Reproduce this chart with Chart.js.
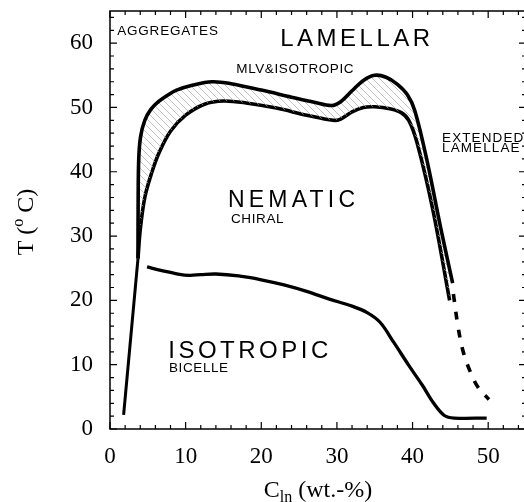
<!DOCTYPE html>
<html>
<head>
<meta charset="utf-8">
<script src="https://cdn.jsdelivr.net/npm/chart.js@4.4.1/dist/chart.umd.min.js"></script>
<style>
  html, body { margin: 0; padding: 0; background: #fff; overflow: hidden; }
  canvas { display: block; }
</style>
</head>
<body>
<canvas id="phase" width="528" height="502"></canvas>
<script>
// 相图: C_ln (wt.-%) vs T (°C)

// 左侧竖线 (aggregates 边界)
const leftX = [1.8, 3.7];
const leftT = [2.2, 26.5];

// MLV&ISOTROPIC 上边界
const outerX = [3.7, 3.72, 3.8, 4.05, 4.6, 5.4, 6.4, 7.6, 8.8, 11, 13.5, 16, 20, 24, 27, 29.3, 30.5, 32, 33.5, 35, 36.5, 38, 39.3, 40.3, 41.9, 43.7, 45.3];
const outerT = [26.5, 35, 42, 45.5, 48, 49.7, 50.9, 51.9, 52.7, 53.5, 54, 53.7, 52.7, 51.6, 50.8, 50.3, 50.9, 52.6, 54.2, 55, 54.7, 53.6, 52, 49.5, 41.8, 31.4, 22.7];

// 向列相上边界
const innerX = [3.7, 4.0, 4.6, 5.5, 6.5, 8, 10, 12.5, 15, 18, 22, 26, 29.5, 30.5, 32, 33.5, 35, 37, 38.5, 39.5, 40.6, 42.7, 44.9];
const innerT = [26.5, 31, 36, 39.8, 43, 46.3, 48.8, 50.5, 51, 50.7, 49.9, 48.8, 48, 48.2, 49.3, 50, 50.1, 49.8, 49.2, 48, 44.5, 34, 20];

// 各向同性 / 向列相 边界
const lowerX = [4.9, 7, 9, 10.5, 12, 14, 17, 20, 23, 26, 29, 32, 34, 35.7, 37.5, 39.5, 41.3, 42.8, 44.2, 45.5, 49.8];
const lowerT = [25.2, 24.6, 24.1, 23.9, 24, 24.1, 23.8, 23.2, 22.4, 21.4, 20.2, 19.1, 18.1, 16.6, 13.5, 9.9, 6.8, 4.0, 2.1, 1.7, 1.7];

// 虚线延伸部分
const dashX = [45.4, 46.0, 46.7, 47.6, 48.7, 50.1];
const dashT = [21, 16, 12, 9, 6.4, 4.6];

const xTicks = [0, 10, 20, 30, 40, 50];
const yTicks = [0, 10, 20, 30, 40, 50, 60];

const pts = (xs, ys) => xs.map((x, i) => ({ x, y: ys[i] }));

// 斜线填充
function hatchPattern() {
  const s = 7;
  const tile = document.createElement('canvas');
  tile.width = s; tile.height = s;
  const t = tile.getContext('2d');
  t.strokeStyle = '#a8a8a8';
  t.lineWidth = 0.7;
  for (const k of [-1, 0, 1]) {
    t.beginPath();
    t.moveTo(k * s, 0);
    t.lineTo(k * s + s, s);
    t.stroke();
  }
  return document.createElement('canvas').getContext('2d').createPattern(tile, 'repeat');
}

const serif = "'Liberation Serif', 'Times New Roman', serif";
const sans = "'Liberation Sans', Arial, sans-serif";

// 区域标注 (数据坐标)
const notes = [
  { text: 'AGGREGATES',    x: 0.95, y: 61.3, size: 13.5, sp: 0.8 },
  { text: 'LAMELLAR',      x: 22.5, y: 59.6, size: 24, sp: 3.5 },
  { text: 'MLV&ISOTROPIC', x: 16.7, y: 55.4, size: 13.5, sp: 0.6 },
  { text: 'EXTENDED',      x: 43.9, y: 44.6, size: 13.5, sp: 1.1 },
  { text: 'LAMELLAE',      x: 43.9, y: 43.1, size: 13.5, sp: 1.1 },
  { text: 'NEMATIC',       x: 15.6, y: 34.5, size: 23, sp: 4.2 },
  { text: 'CHIRAL',        x: 16.0, y: 32.0, size: 13.5, sp: 0.6 },
  { text: 'ISOTROPIC',     x: 7.7,  y: 11.0, size: 24, sp: 3.5 },
  { text: 'BICELLE',       x: 7.8,  y: 8.9,  size: 13.5, sp: 0.6 },
];

const framePlugin = {
  id: 'frame',
  afterDraw(chart) {
    const { ctx, chartArea: a, scales: { x, y } } = chart;
    ctx.save();
    ctx.strokeStyle = '#000';
    ctx.lineWidth = 1.5;
    ctx.strokeRect(a.left, a.top, a.right - a.left, a.bottom - a.top);

    // 向内刻度
    ctx.lineWidth = 1.2;
    ctx.beginPath();
    for (let v = 0; v <= x.max; v += 2) {
      const px = x.getPixelForValue(v);
      const len = v % 10 === 0 ? 7 : 4;
      ctx.moveTo(px, a.bottom); ctx.lineTo(px, a.bottom - len);
      ctx.moveTo(px, a.top); ctx.lineTo(px, a.top + len);
    }
    for (let v = 0; v <= y.max; v += 2) {
      const py = y.getPixelForValue(v);
      const len = v % 10 === 0 ? 7 : 4;
      ctx.moveTo(a.left, py); ctx.lineTo(a.left + len, py);
      ctx.moveTo(a.right, py); ctx.lineTo(a.right - len, py);
    }
    ctx.stroke();

    // 标注文字
    ctx.fillStyle = '#000';
    ctx.textBaseline = 'alphabetic';
    ctx.textAlign = 'left';
    for (const n of notes) {
      ctx.font = `${n.size}px ${sans}`;
      ctx.letterSpacing = n.sp + 'px';
      ctx.fillText(n.text, x.getPixelForValue(n.x), y.getPixelForValue(n.y));
    }
    ctx.letterSpacing = '0px';

    // x 轴标题 C_ln (wt.-%)
    const big = `24px ${serif}`, small = `16px ${serif}`;
    ctx.font = big;
    const wC = ctx.measureText('C').width;
    const wRest = ctx.measureText(' (wt.-%)').width;
    ctx.font = small;
    const wSub = ctx.measureText('ln').width;
    let tx = (a.left + a.right) / 2 - (wC + wSub + wRest) / 2;
    const ty = 497;
    ctx.font = big; ctx.fillText('C', tx, ty); tx += wC;
    ctx.font = small; ctx.fillText('ln', tx, ty + 5); tx += wSub;
    ctx.font = big; ctx.fillText(' (wt.-%)', tx, ty);

    // y 轴标题 T (° C)
    ctx.translate(33, (a.top + a.bottom) / 2 + 2);
    ctx.rotate(-Math.PI / 2);
    ctx.font = big;
    const w1 = ctx.measureText('T (').width;
    const w3 = ctx.measureText(' C)').width;
    ctx.font = small;
    const w2 = ctx.measureText('o').width;
    let ux = -(w1 + w2 + w3) / 2;
    ctx.font = big; ctx.fillText('T (', ux, 0); ux += w1;
    ctx.font = small; ctx.fillText('o', ux, -10); ux += w2;
    ctx.font = big; ctx.fillText(' C)', ux, 0);
    ctx.restore();
  }
};

const line = (data, extra) => Object.assign({
  data,
  borderColor: '#000',
  borderWidth: 3.6,
  borderCapStyle: 'butt',
  borderJoinStyle: 'round',
  pointRadius: 0,
  fill: false,
  tension: 0.35,
}, extra);

new Chart(document.getElementById('phase'), {
  type: 'line',
  data: {
    datasets: [
      line(pts(outerX, outerT), { fill: '+1', backgroundColor: hatchPattern() }),
      line(pts(innerX, innerT)),
      line(pts(leftX, leftT), { borderWidth: 3, tension: 0 }),
      line(pts(lowerX, lowerT), { borderWidth: 3.3 }),
      line(pts(dashX, dashT), { borderDash: [8, 10], borderWidth: 3.6 }),
    ],
  },
  options: {
    responsive: false,
    animation: false,
    layout: { padding: { top: 11, right: 2, left: 0, bottom: 0 } },
    plugins: { legend: { display: false }, tooltip: { enabled: false } },
    scales: {
      x: {
        type: 'linear', min: 0, max: 55,
        grid: { display: false, drawTicks: false },
        border: { display: false },
        afterFit: s => { s.height = 73; s.paddingLeft = 0; s.paddingRight = 0; },
        afterBuildTicks: s => { s.ticks = xTicks.map(v => ({ value: v })); },
        ticks: { padding: 14, color: '#000', font: { family: serif, size: 23 } },
      },
      y: {
        type: 'linear', min: 0, max: 65,
        grid: { display: false, drawTicks: false },
        border: { display: false },
        afterFit: s => { s.width = 110; s.paddingTop = 0; s.paddingBottom = 0; },
        afterBuildTicks: s => { s.ticks = yTicks.map(v => ({ value: v })); },
        ticks: { padding: 17, color: '#000', font: { family: serif, size: 23 } },
      },
    },
  },
  plugins: [framePlugin],
});
</script>
</body>
</html>
